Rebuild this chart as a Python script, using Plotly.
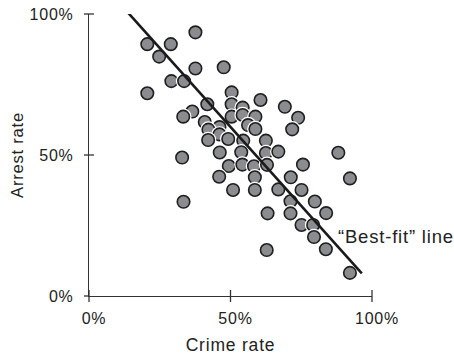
import plotly.graph_objects as go

# ---- data (fractions: 0..1) ----
crime_rate = [0.376, 0.206, 0.289, 0.248, 0.376, 0.476, 0.291, 0.336, 0.206, 0.504,
              0.504, 0.418, 0.365, 0.333, 0.504, 0.409, 0.461, 0.422, 0.461, 0.421,
              0.492, 0.462, 0.329, 0.606, 0.543, 0.692, 0.543, 0.588, 0.739, 0.562,
              0.588, 0.718, 0.545, 0.625, 0.538, 0.625, 0.669, 0.881, 0.494, 0.542,
              0.583, 0.629, 0.756, 0.460, 0.586, 0.713, 0.922, 0.509, 0.586, 0.669,
              0.751, 0.334, 0.712, 0.798, 0.631, 0.712, 0.838, 0.751, 0.792, 0.795,
              0.628, 0.837, 0.922]
arrest_rate = [0.935, 0.893, 0.893, 0.849, 0.807, 0.811, 0.762, 0.762, 0.719, 0.722,
               0.680, 0.680, 0.654, 0.636, 0.636, 0.617, 0.599, 0.590, 0.573, 0.553,
               0.557, 0.509, 0.491, 0.695, 0.668, 0.671, 0.642, 0.636, 0.632, 0.606,
               0.592, 0.591, 0.551, 0.551, 0.510, 0.507, 0.512, 0.508, 0.461, 0.466,
               0.460, 0.465, 0.466, 0.423, 0.421, 0.421, 0.417, 0.376, 0.376, 0.378,
               0.376, 0.334, 0.336, 0.335, 0.293, 0.293, 0.294, 0.252, 0.252, 0.209,
               0.163, 0.166, 0.082]

fit_x = [0.126, 0.964]
fit_y = [1.018, 0.080]

tick_vals = [0, 0.5, 1]
tick_text = ["0%", "50%", "100%"]

x_title = "Crime rate"
y_title = "Arrest rate"
fit_label = "\u201cBest-fit\u201d line"

# ---- styling ----
FONT = "Liberation Sans, Arial, Helvetica, sans-serif"
FILL = "#8b8c8f"
EDGE = "#1e1e1e"
AXIS = "#333333"

# interleave a white halo under each circle so overlapping circles get a white gap
xs, ys, sizes, colors, lcolors, lwidths = [], [], [], [], [], []
for cx, cy in zip(crime_rate, arrest_rate):
    xs += [cx, cx]
    ys += [cy, cy]
    sizes += [16.5, 12.5]
    colors += ["white", FILL]
    lcolors += ["white", EDGE]
    lwidths += [0, 1.6]

fig = go.Figure()
fig.add_trace(go.Scatter(
    x=xs, y=ys, mode="markers", cliponaxis=False, hoverinfo="skip",
    marker=dict(size=sizes, color=colors, opacity=1,
                line=dict(color=lcolors, width=lwidths)),
    showlegend=False))
fig.add_trace(go.Scatter(
    x=fit_x, y=fit_y, mode="lines", cliponaxis=False, hoverinfo="skip",
    line=dict(color="#1a1a1a", width=2.6), showlegend=False))

fig.add_annotation(x=0.873, y=0.21, xref="x", yref="y", text=fit_label,
                   showarrow=False, xanchor="left", yanchor="middle", align="left",
                   font=dict(family=FONT, size=18.5, color="#222"))

# crossing tick marks (both sides of each axis line); axis range == domain [0,1]
for v in tick_vals:
    fig.add_shape(type="line", xref="x domain", yref="y domain", ysizemode="pixel",
                  yanchor=0, x0=v, x1=v, y0=-6, y1=6,
                  line=dict(color=AXIS, width=1.3), layer="above")
    fig.add_shape(type="line", xref="x domain", yref="y domain", xsizemode="pixel",
                  xanchor=0, y0=v, y1=v, x0=-5, x1=5 if v > 0 else 0,
                  line=dict(color=AXIS, width=1.3), layer="above")

common = dict(range=[0, 1], tickvals=tick_vals, ticktext=tick_text, showgrid=False,
              zeroline=False, showline=True, linecolor=AXIS, linewidth=1.3,
              ticks="", fixedrange=True, automargin=False)

fig.update_layout(
    width=454, height=355,
    margin=dict(l=89, r=82, t=14, b=59),
    paper_bgcolor="white", plot_bgcolor="white",
    font=dict(family=FONT, color="#222"),
    xaxis=dict(**common, tickfont=dict(size=16), ticklabelstandoff=8, ticklabelshift=5,
               title=dict(text=x_title, font=dict(size=17.5), standoff=12)),
    yaxis=dict(**common, tickfont=dict(size=16), ticklabelstandoff=11,
               title=dict(text=y_title, font=dict(size=16.5), standoff=4)),
)

post = ("var s=document.createElement('style');"
        "s.textContent='body{margin:0;overflow:hidden;} .main-svg text{letter-spacing:0.8px;}';"
        "document.head.appendChild(s);")
fig.write_html("out.html", post_script=post, config={"displayModeBar": False})
